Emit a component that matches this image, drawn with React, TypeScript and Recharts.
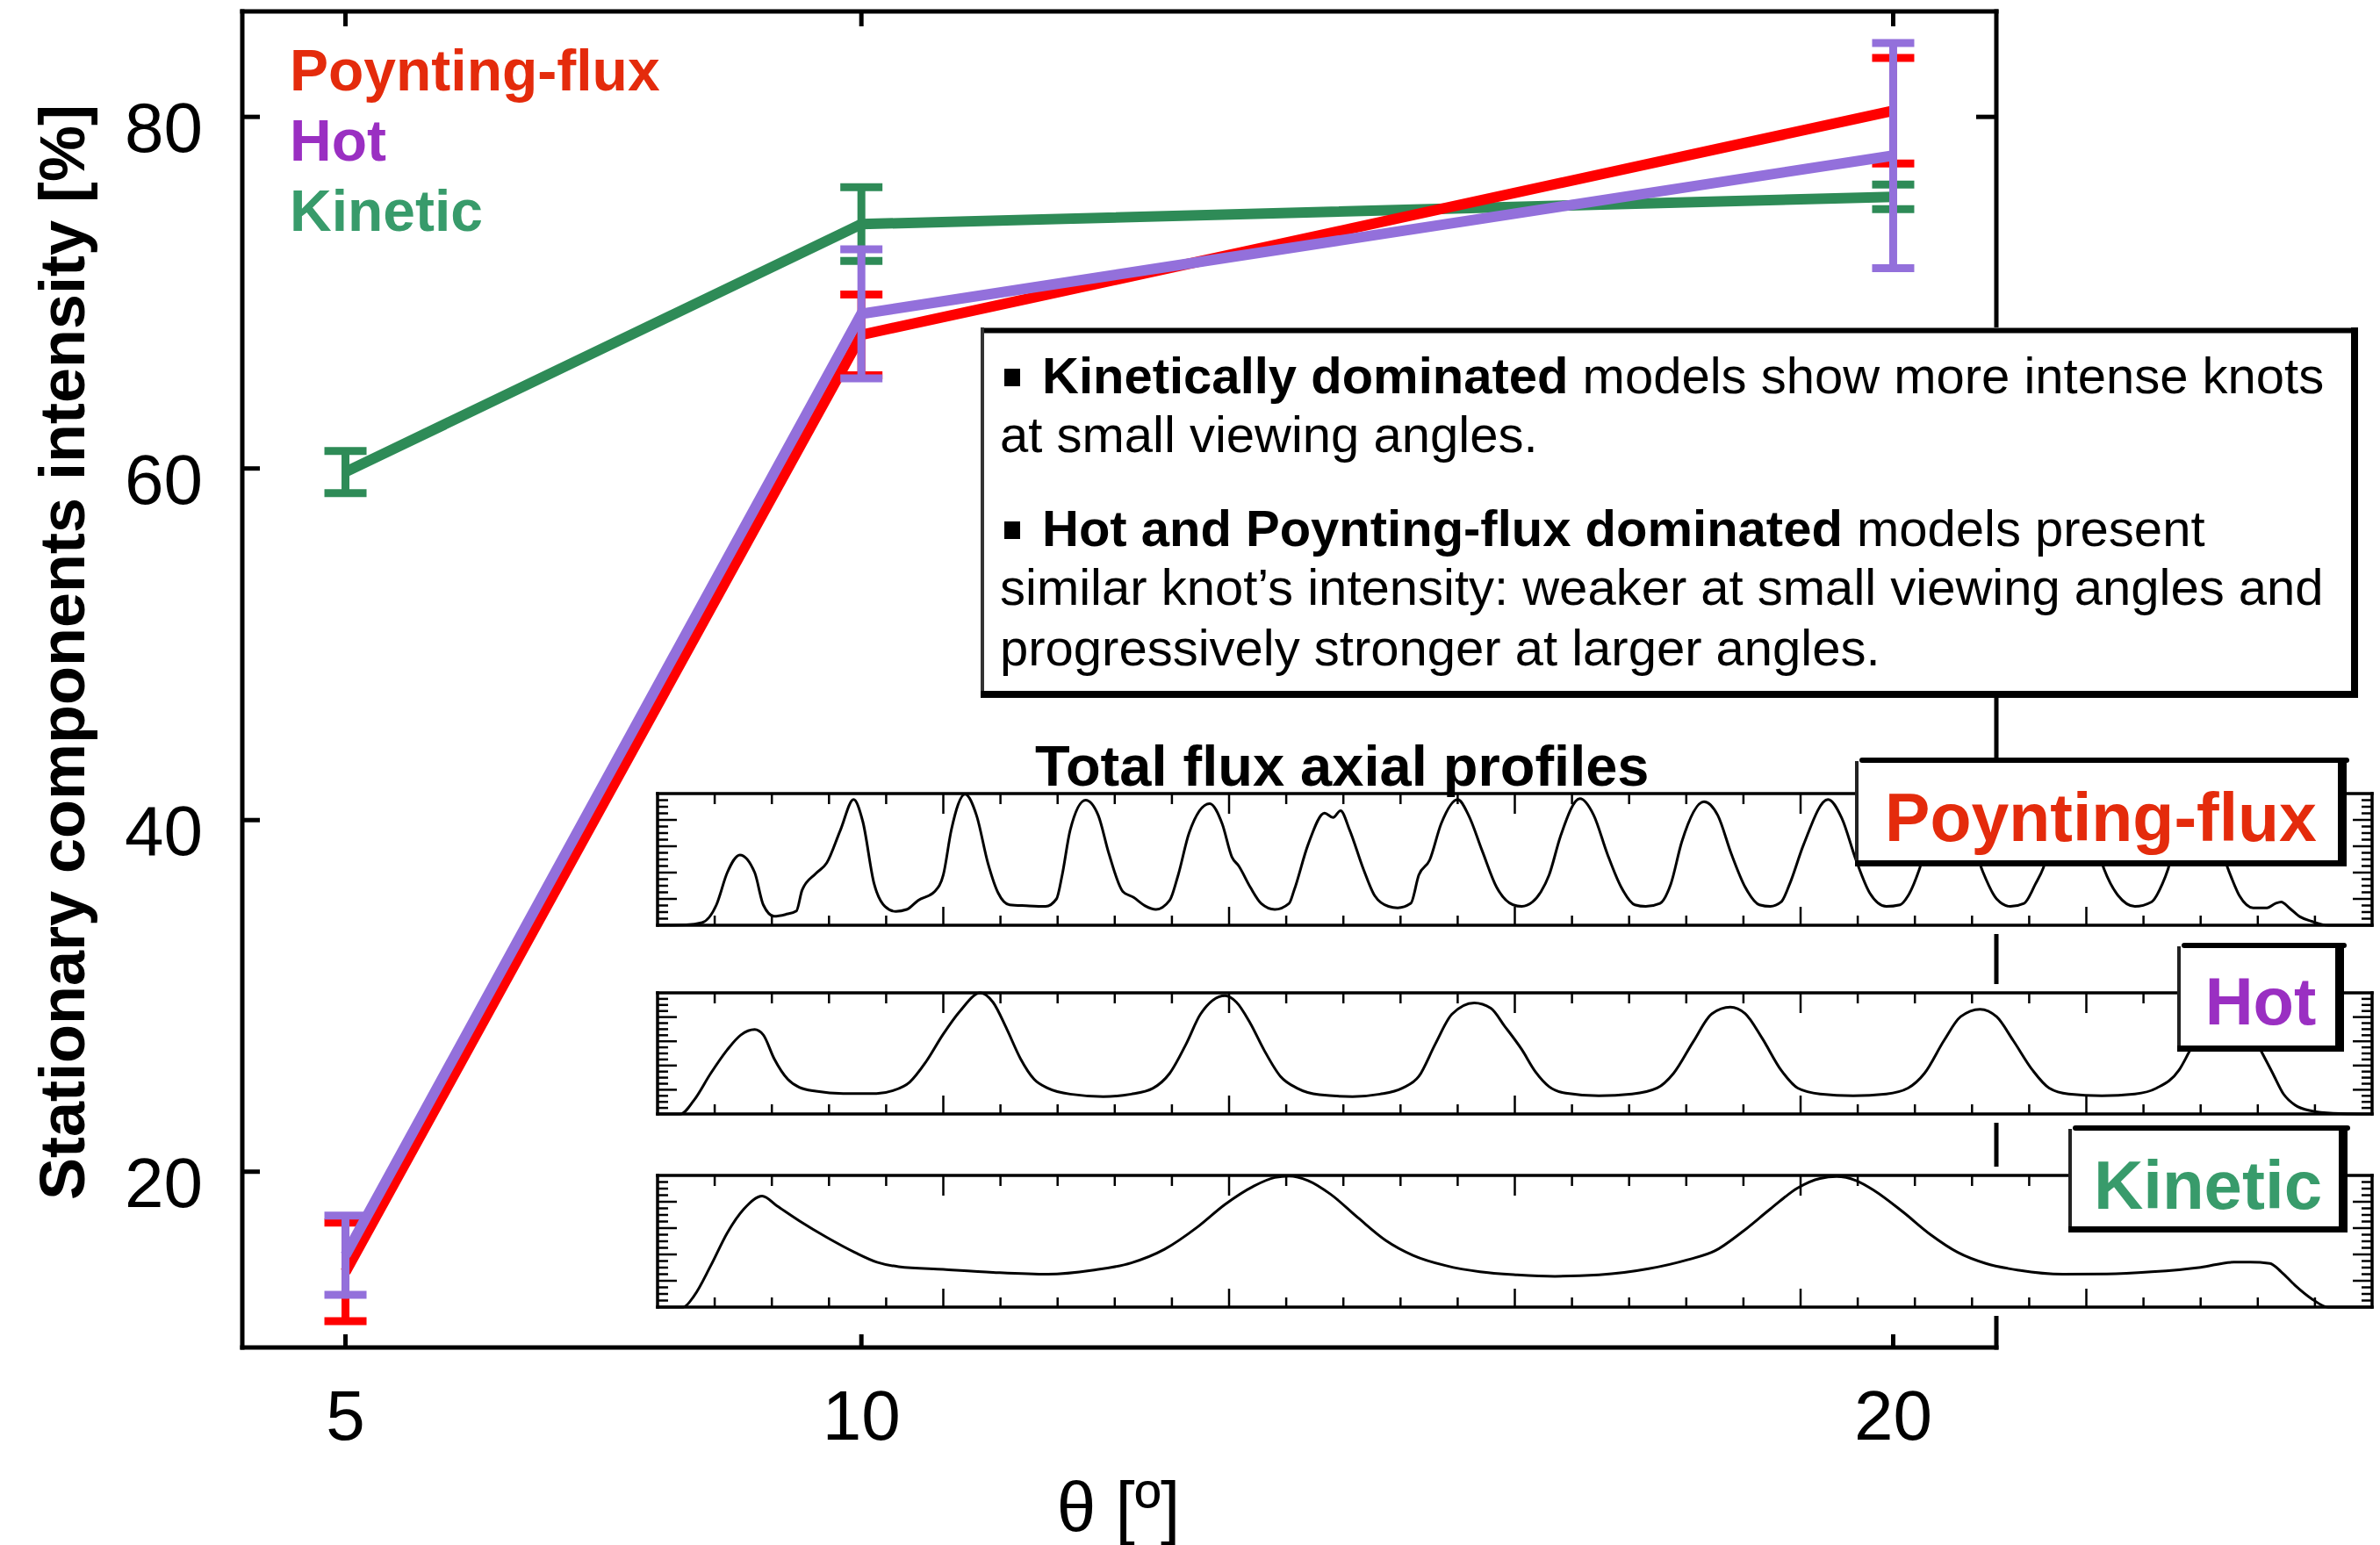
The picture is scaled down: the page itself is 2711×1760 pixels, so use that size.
import React from 'react';
import { LineChart, Line, XAxis, YAxis, ErrorBar, Legend } from 'recharts';

const FONT = '"Liberation Sans", Arial, Helvetica, sans-serif';

// Main panel: viewing angle vs. stationary components intensity
const THETA = [5, 10, 20];
const POYNTING = [14.3, 67.6, 80.35];
const POYNTING_ERR = [2.8, 2.3, 3.0];
const HOT = [15.25, 68.8, 77.8];
const HOT_ERR = [2.25, 3.67, 6.4];
const KINETIC = [59.8, 73.9, 75.45];
const KINETIC_ERR = [1.2, 2.1, 0.7];

const THETA_TICKS = [5, 10, 20];
const INTENSITY_TICKS = [20, 40, 60, 80];

const LEGEND_ORDER = ['Poynting-flux', 'Hot', 'Kinetic'];
const LEGEND_COLORS: Record<string, string> = {
  'Poynting-flux': '#e42b0c',
  Hot: '#9a2fc2',
  Kinetic: '#389b6b',
};

// Inset profiles (normalised flux along the jet axis), read as [position, flux]
const POYNTING_PROFILE = [
  [0, 0], [0.5, 0.003], [0.78, 0.02], [1.03, 0.155], [1.22, 0.4], [1.44, 0.534], [1.7, 0.4], [1.85, 0.155],
  [2.04, 0.068], [2.24, 0.082], [2.43, 0.109], [2.53, 0.268], [2.77, 0.393], [2.96, 0.473], [3.2, 0.723],
  [3.43, 0.955], [3.59, 0.79], [3.79, 0.314], [3.98, 0.143], [4.17, 0.105], [4.36, 0.12], [4.56, 0.189],
  [4.85, 0.257], [5.0, 0.382], [5.14, 0.723], [5.38, 0.995], [5.58, 0.836], [5.78, 0.473], [5.96, 0.245],
  [6.16, 0.155], [6.45, 0.148], [6.79, 0.143], [6.98, 0.2], [7.08, 0.382], [7.22, 0.723], [7.49, 0.95],
  [7.71, 0.836], [7.9, 0.54], [8.14, 0.257], [8.33, 0.211], [8.53, 0.148], [8.72, 0.12], [8.96, 0.189],
  [9.11, 0.382], [9.3, 0.7], [9.66, 0.923], [9.88, 0.77], [10.05, 0.518], [10.17, 0.45], [10.37, 0.29],
  [10.56, 0.166], [10.8, 0.12], [11.05, 0.166], [11.14, 0.268], [11.38, 0.609], [11.67, 0.852], [11.82, 0.818],
  [11.95, 0.87], [12.11, 0.723], [12.35, 0.427], [12.55, 0.223], [12.79, 0.143], [12.95, 0.132], [13.18, 0.166],
  [13.32, 0.382], [13.51, 0.495], [13.71, 0.77], [14.0, 0.955], [14.19, 0.836], [14.43, 0.564], [14.68, 0.29],
  [14.97, 0.155], [15.12, 0.143], [15.31, 0.177], [15.46, 0.257], [15.6, 0.382], [15.8, 0.677], [16.14, 0.961],
  [16.38, 0.836], [16.62, 0.54], [16.86, 0.29], [17.1, 0.155], [17.29, 0.143], [17.54, 0.166], [17.73, 0.314],
  [17.92, 0.632], [18.31, 0.939], [18.55, 0.836], [18.79, 0.54], [19.03, 0.29], [19.28, 0.155], [19.47, 0.143],
  [19.66, 0.177], [19.81, 0.314], [20.05, 0.609], [20.48, 0.955], [20.72, 0.814], [20.97, 0.495], [21.21, 0.245],
  [21.5, 0.143], [21.74, 0.155], [21.88, 0.223], [22.08, 0.427], [22.3, 0.75], [22.62, 0.92], [22.92, 0.75],
  [23.19, 0.405], [23.43, 0.2], [23.67, 0.143], [23.91, 0.166], [24.11, 0.314], [24.25, 0.439], [24.45, 0.75],
  [24.78, 0.92], [25.08, 0.75], [25.31, 0.427], [25.56, 0.223], [25.85, 0.143], [26.14, 0.177], [26.33, 0.314],
  [26.43, 0.427], [26.62, 0.75], [26.93, 0.92], [27.22, 0.75], [27.49, 0.416], [27.68, 0.223], [27.92, 0.132],
  [28.16, 0.132], [28.31, 0.166], [28.41, 0.177], [28.55, 0.132], [28.74, 0.064], [28.94, 0.03], [29.23, 0],
  [30, 0],
];

const HOT_PROFILE = [
  [0, 0], [0.4, 0], [0.64, 0.115], [0.93, 0.335], [1.22, 0.53], [1.46, 0.653], [1.7, 0.697], [1.85, 0.653],
  [2.04, 0.457], [2.28, 0.286], [2.48, 0.22], [2.77, 0.188], [3.25, 0.169], [3.83, 0.169], [4.12, 0.193],
  [4.41, 0.262], [4.7, 0.433], [4.99, 0.653], [5.29, 0.848], [5.65, 1.0], [5.87, 0.922], [6.11, 0.702],
  [6.35, 0.457], [6.59, 0.286], [6.83, 0.213], [7.22, 0.164], [7.8, 0.144], [8.29, 0.164], [8.67, 0.213],
  [8.96, 0.335], [9.25, 0.579], [9.5, 0.824], [9.93, 0.976], [10.13, 0.922], [10.37, 0.75], [10.61, 0.53],
  [10.9, 0.31], [11.19, 0.213], [11.58, 0.159], [12.16, 0.144], [12.64, 0.164], [13.03, 0.213], [13.32, 0.31],
  [13.61, 0.579], [13.9, 0.824], [14.29, 0.917], [14.58, 0.873], [14.82, 0.726], [15.12, 0.533], [15.36, 0.349],
  [15.6, 0.226], [15.89, 0.172], [16.47, 0.15], [17.05, 0.165], [17.49, 0.214], [17.78, 0.337], [18.12, 0.595],
  [18.45, 0.828], [18.77, 0.882], [19.03, 0.828], [19.32, 0.631], [19.66, 0.361], [19.95, 0.214], [20.34, 0.165],
  [20.92, 0.15], [21.5, 0.165], [21.88, 0.214], [22.17, 0.337], [22.51, 0.607], [22.8, 0.803], [23.14, 0.865],
  [23.43, 0.803], [23.72, 0.607], [24.06, 0.361], [24.35, 0.214], [24.69, 0.165], [25.27, 0.15], [25.85, 0.165],
  [26.23, 0.214], [26.62, 0.361], [26.81, 0.521], [27.1, 0.76], [27.45, 0.85], [27.78, 0.76], [28.07, 0.509],
  [28.26, 0.337], [28.45, 0.165], [28.65, 0.074], [28.94, 0.025], [29.32, 0.005], [29.81, 0], [30, 0],
];

const KINETIC_PROFILE = [
  [0, 0], [0.45, 0], [0.64, 0.086], [0.93, 0.314], [1.22, 0.564], [1.51, 0.745], [1.83, 0.843], [2.09, 0.768],
  [2.48, 0.655], [2.96, 0.53], [3.45, 0.416], [3.84, 0.341], [4.22, 0.307], [5.0, 0.286], [5.87, 0.264],
  [6.83, 0.25], [7.61, 0.28], [8.29, 0.336], [8.87, 0.439], [9.45, 0.609], [9.93, 0.78], [10.42, 0.916],
  [10.8, 0.984], [11.05, 0.995], [11.38, 0.961], [11.77, 0.859], [12.26, 0.677], [12.74, 0.507], [13.22, 0.393],
  [13.8, 0.314], [14.39, 0.268], [15.04, 0.245], [15.7, 0.234], [16.47, 0.245], [17.34, 0.291], [18.02, 0.359],
  [18.5, 0.427], [18.99, 0.575], [19.47, 0.745], [19.95, 0.905], [20.34, 0.977], [20.63, 0.991], [20.97, 0.961],
  [21.3, 0.882], [21.79, 0.723], [22.27, 0.552], [22.75, 0.416], [23.24, 0.332], [23.82, 0.28], [24.59, 0.25],
  [25.36, 0.252], [26.14, 0.268], [27.0, 0.302], [27.58, 0.341], [27.87, 0.341], [28.21, 0.332], [28.41, 0.268],
  [28.65, 0.166], [28.94, 0.064], [29.23, 0], [30, 0],
];

const PROFILE_X_TICKS = [1, 2, 3, 4, 5, 6, 7, 8, 9, 10, 11, 12, 13, 14, 15, 16, 17, 18, 19, 20, 21, 22, 23, 24, 25, 26, 27, 28, 29];
const PROFILE_Y_TICKS = [0.05, 0.1, 0.15, 0.2, 0.25, 0.3, 0.35, 0.4, 0.45, 0.5, 0.55, 0.6, 0.65, 0.7, 0.75, 0.8, 0.85, 0.9, 0.95];

const mainData = THETA.map((theta, i) => ({
  theta,
  poynting: POYNTING[i],
  poyntingErr: POYNTING_ERR[i],
  hot: HOT[i],
  hotErr: HOT_ERR[i],
  kinetic: KINETIC[i],
  kineticErr: KINETIC_ERR[i],
}));

const toRows = (pts: number[][]) => pts.map(([u, v]) => ({ u, v }));

const mainFrame = { stroke: '#000', strokeWidth: 5, strokeLinecap: 'square' as const };
const panelFrame = { stroke: '#000', strokeWidth: 3.5, strokeLinecap: 'square' as const };

// main axis ticks: short marks pointing into the plot, labels outside
const BottomTick = (p: any) => (
  <g>
    <line x1={p.x} x2={p.x} y1={p.y} y2={p.y - 15} stroke="#000" strokeWidth={5} />
    <text x={p.x} y={p.y + 105} textAnchor="middle" fontSize={80} fontFamily={FONT} fill="#000">
      {p.payload.value}
    </text>
  </g>
);
const TopTick = (p: any) => (
  <line x1={p.x} x2={p.x} y1={p.y} y2={p.y + 17} stroke="#000" strokeWidth={5} />
);
const LeftTick = (p: any) => (
  <g>
    <line x1={p.x} x2={p.x + 20} y1={p.y} y2={p.y} stroke="#000" strokeWidth={5} />
    <text x={p.x - 45} y={p.y + 40} textAnchor="end" fontSize={80} fontFamily={FONT} fill="#000">
      {p.payload.value}
    </text>
  </g>
);
const RightTick = (p: any) => (
  <line x1={p.x} x2={p.x - 23} y1={p.y} y2={p.y} stroke="#000" strokeWidth={5} />
);

// inset ticks
const isMajor = (v: number) => v % 5 === 0;
const isMajorY = (v: number) => Math.abs(v * 5 - Math.round(v * 5)) < 1e-6;
const PBottomTick = (p: any) => (
  <line x1={p.x} x2={p.x} y1={p.y} y2={p.y - (isMajor(p.payload.value) ? 21 : 11)} stroke="#000" strokeWidth={2.5} />
);
const PTopTick = (p: any) => (
  <line x1={p.x} x2={p.x} y1={p.y} y2={p.y + (isMajor(p.payload.value) ? 23 : 12)} stroke="#000" strokeWidth={2.5} />
);
const PLeftTick = (p: any) => (
  <line x1={p.x} x2={p.x + (isMajorY(p.payload.value) ? 22 : 12)} y1={p.y} y2={p.y} stroke="#000" strokeWidth={2.5} />
);
const PRightTick = (p: any) => (
  <line x1={p.x} x2={p.x - (isMajorY(p.payload.value) ? 22 : 12)} y1={p.y} y2={p.y} stroke="#000" strokeWidth={2.5} />
);

const MainLegend = (props: any) => {
  const payload = props.payload || [];
  const items = LEGEND_ORDER.map((n) => payload.find((p: any) => p.value === n)).filter(Boolean);
  return (
    <div style={{ fontFamily: FONT, fontWeight: 700, fontSize: 66, lineHeight: '80px', textAlign: 'left' }}>
      {items.map((p: any) => (
        <div key={p.value} style={{ color: LEGEND_COLORS[p.value], whiteSpace: 'nowrap' }}>
          {p.value}
        </div>
      ))}
    </div>
  );
};

// white inset box; a white band above and below the frame hides the main frame there
const ProfilePanel = ({ points, top, height }: { points: number[][]; top: number; height: number }) => {
  const rows = toRows(points);
  return (
    <div style={{ position: 'absolute', left: 745, top: top - 10, background: '#fff' }}>
      <LineChart width={1961} height={height + 20} data={rows} margin={{ top: 9, right: 3, bottom: 9, left: 3 }}>
        <XAxis xAxisId="b" dataKey="u" type="number" domain={[0, 30]} ticks={PROFILE_X_TICKS} interval={0}
          height={1} tickSize={0} tickMargin={0} axisLine={panelFrame} tickLine={false} tick={PBottomTick} />
        <XAxis xAxisId="t" orientation="top" dataKey="u" type="number" domain={[0, 30]} ticks={PROFILE_X_TICKS} interval={0}
          height={1} tickSize={0} tickMargin={0} axisLine={panelFrame} tickLine={false} tick={PTopTick} />
        <YAxis yAxisId="l" type="number" domain={[0, 1]} ticks={PROFILE_Y_TICKS} interval={0}
          width={1} tickSize={0} tickMargin={0} axisLine={panelFrame} tickLine={false} tick={PLeftTick} />
        <YAxis yAxisId="r" orientation="right" type="number" domain={[0, 1]} ticks={PROFILE_Y_TICKS} interval={0}
          width={1} tickSize={0} tickMargin={0} axisLine={panelFrame} tickLine={false} tick={PRightTick} />
        <Line xAxisId="t" yAxisId="r" dataKey="v" stroke="none" dot={false} legendType="none" isAnimationActive={false} />
        <Line xAxisId="b" yAxisId="l" type="monotone" dataKey="v" stroke="#000" strokeWidth={3} dot={false}
          isAnimationActive={false} />
      </LineChart>
    </div>
  );
};

const TagBox = ({ x, y, w, h, label, color, size, baseline }: any) => (
  <g>
    <rect x={x} y={y} width={w} height={h} fill="#fff" />
    <line x1={x + 2} y1={y + 4} x2={x + 2} y2={y + h} stroke="#222" strokeWidth={4} />
    <line x1={x + 8} y1={y + 3} x2={x + w} y2={y + 3} stroke="#000" strokeWidth={6} strokeLinecap="round" />
    <line x1={x + w - 5} y1={y} x2={x + w - 5} y2={y + h} stroke="#000" strokeWidth={10} />
    <line x1={x} y1={y + h - 3.5} x2={x + w} y2={y + h - 3.5} stroke="#000" strokeWidth={7} />
    <text x={x + w / 2} y={baseline} textAnchor="middle" fontWeight="bold" fontSize={size} fontFamily={FONT} fill={color}>
      {label}
    </text>
  </g>
);

export default function App() {
  return (
    <div style={{ position: 'absolute', left: 0, top: 0, width: 2711, height: 1760, background: '#fff' }}>
      <div style={{ position: 'absolute', left: 0, top: 0 }}>
        <LineChart width={2711} height={1760} data={mainData} margin={{ top: 12, right: 436, bottom: 224, left: 275 }}>
          <XAxis xAxisId="b" dataKey="theta" type="number" domain={[4, 21]} ticks={THETA_TICKS} interval={0}
            height={1} tickSize={0} tickMargin={0} axisLine={mainFrame} tickLine={false} tick={BottomTick} />
          <XAxis xAxisId="t" orientation="top" dataKey="theta" type="number" domain={[4, 21]} ticks={THETA_TICKS} interval={0}
            height={1} tickSize={0} tickMargin={0} axisLine={mainFrame} tickLine={false} tick={TopTick} />
          <YAxis yAxisId="l" type="number" domain={[10, 86]} ticks={INTENSITY_TICKS} interval={0}
            width={1} tickSize={0} tickMargin={0} axisLine={mainFrame} tickLine={false} tick={LeftTick} />
          <YAxis yAxisId="r" orientation="right" type="number" domain={[10, 86]} ticks={INTENSITY_TICKS} interval={0}
            width={1} tickSize={0} tickMargin={0} axisLine={mainFrame} tickLine={false} tick={RightTick} />
          <Legend layout="vertical" align="center" verticalAlign="middle" content={MainLegend}
            wrapperStyle={{ top: 40, left: 330, width: 'auto', height: 'auto' }} />
          <Line xAxisId="t" yAxisId="r" dataKey="kinetic" stroke="none" dot={false} legendType="none" isAnimationActive={false} />
          <Line xAxisId="b" yAxisId="l" name="Kinetic" dataKey="kinetic" stroke="#2e8b57" strokeWidth={12} dot={false}
            isAnimationActive={false}>
            <ErrorBar dataKey="kineticErr" direction="y" width={24} stroke="#2e8b57" strokeWidth={9} />
          </Line>
          <Line xAxisId="b" yAxisId="l" name="Poynting-flux" dataKey="poynting" stroke="#ff0000" strokeWidth={12} dot={false}
            isAnimationActive={false}>
            <ErrorBar dataKey="poyntingErr" direction="y" width={24} stroke="#ff0000" strokeWidth={9} />
          </Line>
          <Line xAxisId="b" yAxisId="l" name="Hot" dataKey="hot" stroke="#9370db" strokeWidth={12} dot={false}
            isAnimationActive={false}>
            <ErrorBar dataKey="hotErr" direction="y" width={24} stroke="#9370db" strokeWidth={9} />
          </Line>
        </LineChart>
      </div>

      <ProfilePanel points={POYNTING_PROFILE} top={904} height={150} />
      <ProfilePanel points={HOT_PROFILE} top={1131} height={138} />
      <ProfilePanel points={KINETIC_PROFILE} top={1339} height={150} />

      <svg width={2711} height={1760} style={{ position: 'absolute', left: 0, top: 0, pointerEvents: 'none' }}>
        <text transform="translate(96,743) rotate(-90)" textAnchor="middle" fontWeight="bold" fontSize={72}
          fontFamily={FONT} fill="#000">
          Stationary components intensity [%]
        </text>
        <text x={1274} y={1744} textAnchor="middle" fontSize={80} fontFamily={FONT} fill="#000">
          θ [º]
        </text>
        <text x={1179} y={895} fontWeight="bold" fontSize={65} fontFamily={FONT} fill="#000">
          Total flux axial profiles
        </text>

        {/* description box */}
        <rect x={1117} y={373} width={1569} height={422} fill="#fff" />
        <line x1={1117} y1={376.5} x2={2686} y2={376.5} stroke="#000" strokeWidth={6} />
        <line x1={1119} y1={373} x2={1119} y2={795} stroke="#333" strokeWidth={4} />
        <line x1={2682} y1={373} x2={2682} y2={795} stroke="#000" strokeWidth={8} />
        <line x1={1117} y1={791} x2={2686} y2={791} stroke="#000" strokeWidth={8} />
        <g fontFamily={FONT} fontSize={58} fill="#000">
          <rect x={1144} y={420} width={18} height={20} fill="#000" />
          <text x={1187} y={448}>
            <tspan fontWeight="bold">Kinetically dominated</tspan> models show more intense knots
          </text>
          <text x={1139} y={515}>at small viewing angles.</text>
          <rect x={1144} y={594} width={18} height={20} fill="#000" />
          <text x={1187} y={622}>
            <tspan fontWeight="bold">Hot and Poynting-flux dominated</tspan> models present
          </text>
          <text x={1139} y={689}>similar knot’s intensity: weaker at small viewing angles and</text>
          <text x={1139} y={758}>progressively stronger at larger angles.</text>
        </g>

        <TagBox x={2113} y={863} w={560} h={124} label="Poynting-flux" color="#e42b0c" size={77} baseline={958} />
        <TagBox x={2480} y={1074} w={190} h={124} label="Hot" color="#9a2fc2" size={76} baseline={1167} />
        <TagBox x={2356} y={1282} w={318} h={122} label="Kinetic" color="#389b6b" size={78} baseline={1377} />
      </svg>
    </div>
  );
}
